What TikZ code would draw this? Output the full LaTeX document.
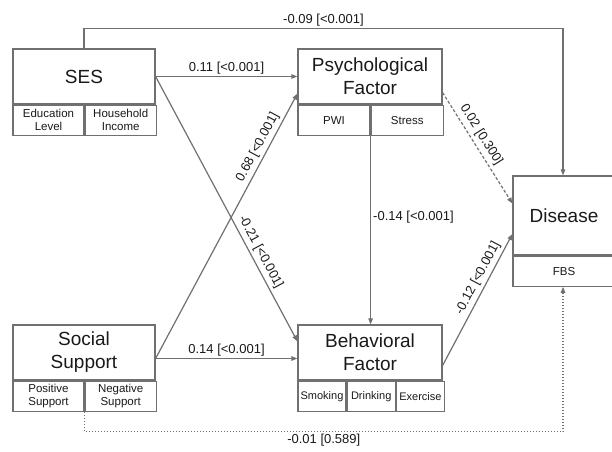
\documentclass[tikz,border=0pt]{standalone}
\usepackage{fontspec}
\setmainfont{Liberation Sans}
\usetikzlibrary{arrows.meta, positioning}
\definecolor{lineGray}{RGB}{112,112,112}
\definecolor{labelBlack}{RGB}{25,25,25}

\begin{document}
\begin{tikzpicture}[
    x=1pt, y=-1pt,
    block/.style={rectangle, draw=lineGray, line width=1.2pt, inner sep=0pt, minimum width=142pt, minimum height=55pt, align=center, text=labelBlack, font=\fontsize{19}{23}\selectfont},
    cell/.style={rectangle, draw=lineGray, line width=1.2pt, inner sep=0pt, minimum width=71pt, minimum height=30pt, align=center, text=labelBlack, font=\fontsize{11.5}{13}\selectfont},
    arrow/.style={-{Triangle[length=6pt, width=4.5pt]}, draw=lineGray, line width=1.2pt},
    coef/.style={font=\fontsize{13}{15}\selectfont, text=labelBlack, inner sep=2pt}
]
\useasboundingbox (0,0) rectangle (612,451);

% SES
\node[block] (ses) at (84,76.5) {SES};
\node[cell, below=0pt of ses.south west, anchor=north west] (sesA) {Education\\Level};
\node[cell, right=0pt of sesA] (sesB) {Household\\Income};

% Psychological factor
\node[block, minimum width=144pt] (psy) at (370,76.5) {Psychological\\Factor};
\node[cell, minimum width=72pt, below=0pt of psy.south west, anchor=north west] (psyA) {PWI};
\node[cell, minimum width=72pt, right=0pt of psyA] (psyB) {Stress};

% Social support
\node[block] (soc) at (84,352.5) {Social\\Support};
\node[cell, below=0pt of soc.south west, anchor=north west] (socA) {Positive\\Support};
\node[cell, right=0pt of socA] (socB) {Negative\\Support};

% Behavioral factor
\node[block, minimum width=144pt] (beh) at (370,352.5) {Behavioral\\Factor};
\node[cell, minimum width=48pt, font=\fontsize{11}{13}\selectfont, below=0pt of beh.south west, anchor=north west] (behA) {Smoking};
\node[cell, minimum width=48pt, font=\fontsize{11}{13}\selectfont, right=0pt of behA] (behB) {Drinking};
\node[cell, minimum width=48pt, font=\fontsize{11}{13}\selectfont, right=0pt of behB] (behC) {Exercise};

% Disease (runs off the right edge)
\node[block, minimum width=102pt, minimum height=79pt] (dis) at (564,215.5) {Disease};
\node[cell, minimum width=102pt, below=0pt of dis.south west, anchor=north west] (disA) {FBS};

% Paths
\coordinate (socOut) at ([yshift=-6pt]soc.east);
\draw[arrow] (ses.north) -- ++(0,-20) -| ([xshift=-1pt]dis.north) node[coef, pos=0.25, above] {-0.09 [<0.001]};
\draw[arrow] (ses.east) -- (psy.west) node[coef, midway, above] {0.11 [<0.001]};
\draw[arrow] (ses.east) -- ([yshift=-17pt]beh.north west) node[coef, pos=0.68, sloped, above, inner sep=3pt] {-0.21 [<0.001]};
\draw[arrow] (socOut) -- ([yshift=11pt]psy.south west) node[coef, pos=0.78, sloped, above, inner sep=3pt] {0.68 [<0.001]};
\draw[arrow] (socOut) -- (socOut -| beh.west) node[coef, midway, above] {0.14 [<0.001]};
\draw[arrow] (psyA.south east) -- (psyA.south east |- beh.north) node[coef, pos=0.43, right] {-0.14 [<0.001]};
\draw[arrow, dash pattern=on 3pt off 2pt] ([yshift=12pt]psy.south east) -- ([yshift=12pt]dis.west) node[coef, pos=0.43, sloped, above, inner sep=3.5pt] {0.02 [0.300]};
\draw[arrow] ([yshift=-13pt]beh.east) -- ([yshift=-18.5pt]dis.west) node[coef, pos=0.63, sloped, above, inner sep=3pt] {-0.12 [<0.001]};
\draw[arrow, dash pattern=on 1.5pt off 1.5pt] (socA.south east) -- ++(0,20) -| ([xshift=-1pt]disA.south) node[coef, pos=0.25, below] {-0.01 [0.589]};

\end{tikzpicture}
\end{document}
